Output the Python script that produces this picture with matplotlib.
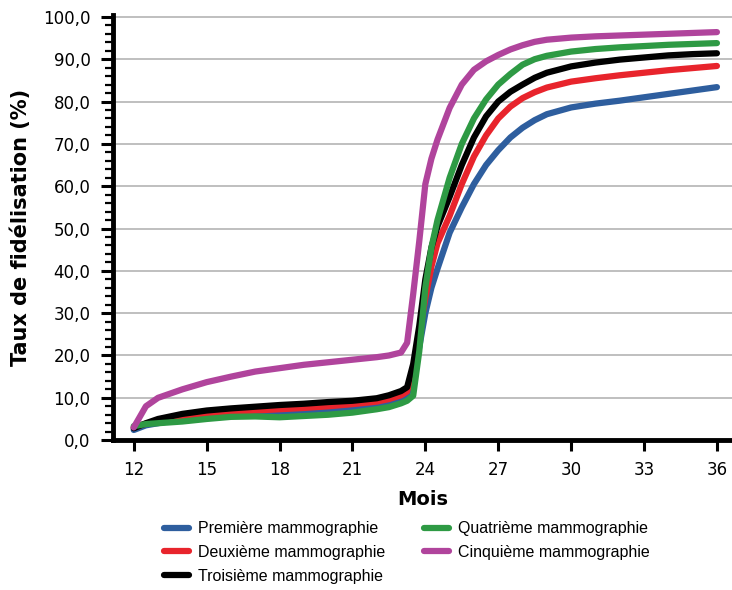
import matplotlib.pyplot as plt
from matplotlib.ticker import MultipleLocator, FuncFormatter

plt.rcParams['font.family'] = ['DejaVu Sans']

# --- data ---
months = [12, 12.5, 13, 14, 15, 16, 17, 18, 19, 20, 21, 22, 22.5, 23, 23.25,
          23.5, 23.75, 24, 24.25, 24.5, 25, 25.5, 26, 26.5, 27, 27.5, 28, 28.5, 29, 30,
          31, 32, 33, 34, 35, 36]

premiere = [2.4, 3.5, 4.0, 5.0, 5.7, 6.1, 6.4, 6.7, 7.0, 7.3, 7.7, 8.3, 8.9, 9.8, 10.6,
            15.5, 22, 30, 36, 40.5, 49, 55, 60.5, 65, 68.5, 71.5, 73.8, 75.6, 77, 78.6,
            79.5, 80.2, 81.0, 81.8, 82.6, 83.4]
deuxieme = [3.0, 3.9, 4.5, 5.5, 6.2, 6.6, 7.0, 7.3, 7.6, 8.0, 8.5, 9.1, 9.7, 10.6, 11.5,
            17, 25, 33.5, 41, 46.5, 53, 60.5, 67, 72, 76, 78.8, 80.8, 82.2, 83.3, 84.7,
            85.5, 86.2, 86.8, 87.4, 87.9, 88.4]
troisieme = [2.8, 4.0, 5.0, 6.2, 7.0, 7.5, 7.9, 8.3, 8.6, 9.0, 9.3, 9.9, 10.6, 11.6, 12.5,
             18, 27, 38, 45.5, 50.5, 57.5, 65, 71.5, 76.5, 80, 82.3, 84, 85.6, 86.8, 88.3,
             89.2, 89.9, 90.4, 90.9, 91.2, 91.4]
quatrieme = [3.3, 3.8, 4.0, 4.4, 5.0, 5.5, 5.6, 5.4, 5.7, 6.0, 6.5, 7.3, 7.8, 8.7, 9.3,
             10.5, 21, 36, 45.5, 52, 62, 70, 76, 80.5, 84, 86.5, 88.7, 90.0, 90.8, 91.8,
             92.4, 92.8, 93.1, 93.4, 93.6, 93.8]
cinquieme = [3.0, 8.0, 10.0, 12.0, 13.7, 15.0, 16.2, 17.0, 17.8, 18.4, 19.0, 19.6, 20.0, 20.7, 23.0,
             34.5, 47, 60.5, 66.5, 71, 78.5, 84, 87.5, 89.5, 91, 92.3, 93.3, 94.1, 94.6, 95.1,
             95.4, 95.6, 95.8, 96.0, 96.2, 96.4]

labels = ['Première mammographie', 'Deuxième mammographie', 'Troisième mammographie',
          'Quatrième mammographie', 'Cinquième mammographie']
series = [premiere, deuxieme, troisieme, quatrieme, cinquieme]
colors = ['#2E5E9E', '#E8242C', '#000000', '#2E9A44', '#B0449C']
x_ticks = [12, 15, 18, 21, 24, 27, 30, 33, 36]

fig = plt.figure(figsize=(7.32, 5.9), dpi=100)
ax = fig.add_axes([0.154, 0.254, 0.846, 0.721])

for vals, lab, col in zip(series, labels, colors):
    ax.plot(months, vals, color=col, lw=4.5, label=lab,
            solid_capstyle='round', solid_joinstyle='round', zorder=3)

ax.set_xlim(11.135, 36.62)
ax.set_ylim(0, 100.5)
ax.set_xticks(x_ticks)
ax.yaxis.set_major_locator(MultipleLocator(10))
ax.yaxis.set_minor_locator(MultipleLocator(2))
ax.yaxis.set_major_formatter(FuncFormatter(lambda v, p: f'{v:.1f}'.replace('.', ',')))
ax.grid(axis='y', which='major', color='#b4b4b4', lw=1.2, zorder=0)

for s in ['top', 'right']:
    ax.spines[s].set_visible(False)
for s in ['left', 'bottom']:
    ax.spines[s].set_linewidth(3.5)

ax.tick_params(axis='y', which='major', length=9, width=2.2, labelsize=12, pad=7)
ax.tick_params(axis='y', which='minor', length=5.5, width=1.6)
ax.tick_params(axis='x', which='major', length=8, width=2.2, labelsize=12, pad=7)

ax.set_xlabel('Mois', fontsize=14, fontweight='bold', labelpad=8)
ax.set_ylabel('Taux de fidélisation (%)', fontsize=15, fontweight='bold', labelpad=9)

ax.legend(loc='upper center', bbox_to_anchor=(0.475, -0.157), ncol=2, frameon=False,
          prop={'family': 'Liberation Sans', 'size': 11.5}, handlelength=1.55,
          columnspacing=2.4, labelspacing=0.55, handletextpad=0.6)

fig.savefig('out.png', dpi=100)
